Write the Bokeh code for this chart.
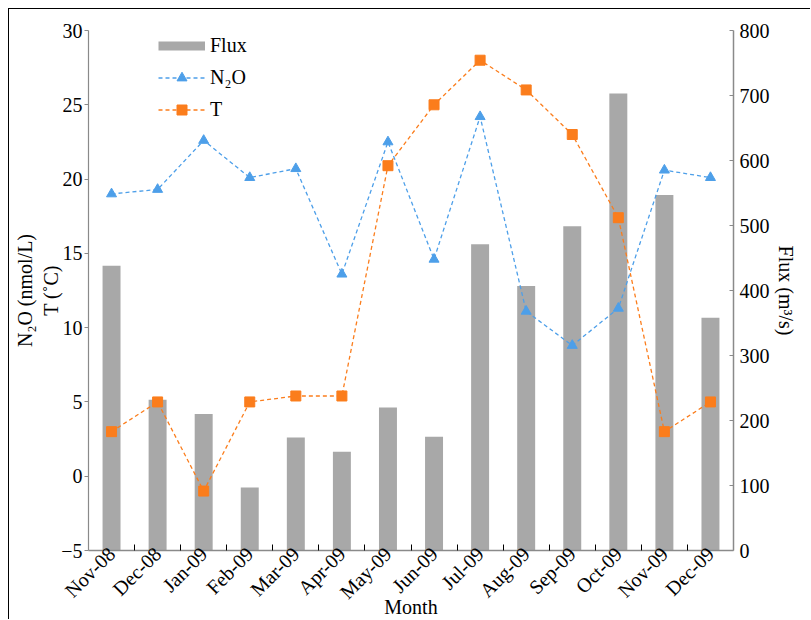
import numpy as np
from math import pi
from bokeh.plotting import figure
from bokeh.models import (Range1d, LinearAxis, FixedTicker, Legend, LegendItem,
                          ColumnDataSource, Title, InlineStyleSheet)
from bokeh.embed import file_html
from bokeh.resources import INLINE

months = ["Nov-08", "Dec-08", "Jan-09", "Feb-09", "Mar-09", "Apr-09", "May-09",
          "Jun-09", "Jul-09", "Aug-09", "Sep-09", "Oct-09", "Nov-09", "Dec-09"]
flux = [438, 232, 210, 97, 174, 152, 220, 175, 471, 407, 499, 703, 547, 358]
n2o = [19.0, 19.3, 22.6, 20.1, 20.7, 13.6, 22.5, 14.6, 24.2, 11.1, 8.8, 11.3, 20.6, 20.1]
temp = [3.0, 5.0, -1.0, 5.0, 5.4, 5.4, 20.9, 25.0, 28.0, 26.0, 23.0, 17.4, 3.0, 5.0]
left_ticks = [-5, 0, 5, 10, 15, 20, 25, 30]
right_ticks = [0, 100, 200, 300, 400, 500, 600, 700, 800]

FONT = "Liberation Serif"
BLUE = "#4d9fe9"
ORANGE = "#fb7d1c"
GRAY = "#a8a8a8"
AXIS = "#8a8a8a"

idx = list(range(len(months)))
src = ColumnDataSource(dict(x=idx, flux=flux, n2o=n2o, temp=temp))

p = figure(width=802, height=611, x_range=Range1d(-0.5, len(months) - 0.5),
           y_range=Range1d(-5, 30), output_backend="svg", toolbar_location=None,
           min_border_left=79, min_border_right=78, min_border_top=21, min_border_bottom=69)
p.extra_y_ranges = {"flux": Range1d(0, 800)}
p.outline_line_color = None
p.grid.visible = False
p.background_fill_color = "white"
p.border_fill_color = "white"
p.stylesheets = [InlineStyleSheet(css=":host { margin: 8px 0 0 8px; border-top: 1px solid #000; border-left: 1px solid #000; }")]

bars = p.vbar(x="x", top="flux", bottom=0, width=0.39, source=src, y_range_name="flux",
              fill_color=GRAY, line_color=None)
l1 = p.line("x", "n2o", source=src, line_color=BLUE, line_width=1.3, line_dash="4 3")
s1 = p.scatter("x", "n2o", source=src, marker="triangle", size=10, fill_color=BLUE, line_color=BLUE)
l2 = p.line("x", "temp", source=src, line_color=ORANGE, line_width=1.3, line_dash="4 3")
s2 = p.scatter("x", "temp", source=src, marker="square", size=10, fill_color=ORANGE, line_color=ORANGE)

# legend swatch for flux (thick gray line, same colour as the bars)
flux_key = p.line(x=[np.nan], y=[np.nan], line_color=GRAY, line_width=9, y_range_name="flux")

# x axis
xa = p.xaxis[0]
xa.ticker = FixedTicker(ticks=idx, minor_ticks=[i + 0.5 for i in idx[:-1]])
xa.major_label_overrides = {i: m for i, m in enumerate(months)}
xa.major_label_orientation = pi / 4
xa.major_tick_in = 0
xa.major_tick_out = 0
xa.minor_tick_in = 6
xa.minor_tick_out = 0
xa.minor_tick_line_color = "#000000"
xa.axis_line_color = AXIS
xa.axis_line_width = 1.5
xa.major_label_text_font = FONT
xa.major_label_text_font_size = "20px"
xa.major_label_text_color = "#000000"
xa.major_label_standoff = 0
xa.axis_label = "Month"
xa.axis_label_text_font = FONT
xa.axis_label_text_font_size = "20px"
xa.axis_label_text_font_style = "normal"
xa.axis_label_text_color = "#000000"
xa.axis_label_standoff = -18

# left axis
ya = p.yaxis[0]
ya.ticker = FixedTicker(ticks=left_ticks)
ya.major_label_overrides = {-5: "\u22125"}
ya.major_tick_in = 0
ya.major_tick_out = 4
ya.minor_tick_line_color = None
ya.axis_line_color = AXIS
ya.axis_line_width = 1.2
ya.major_tick_line_color = AXIS
ya.major_label_text_font = FONT
ya.major_label_text_font_size = "20px"
ya.major_label_text_color = "#000000"
ya.major_label_standoff = 2
ya.axis_label = "N\u2082O (nmol/L)\nT (\u02daC)"
ya.axis_label_text_font = FONT
ya.axis_label_text_font_size = "20px"
ya.axis_label_text_font_style = "normal"
ya.axis_label_text_color = "#000000"
ya.axis_label_standoff = -4

# right axis
ra = LinearAxis(y_range_name="flux", ticker=FixedTicker(ticks=right_ticks))
ra.major_tick_in = 4
ra.major_tick_out = 0
ra.minor_tick_line_color = None
ra.axis_line_color = AXIS
ra.axis_line_width = 1.5
ra.major_tick_line_color = AXIS
ra.major_label_text_font = FONT
ra.major_label_text_font_size = "20px"
ra.major_label_text_color = "#000000"
ra.major_label_standoff = 6
p.add_layout(ra, "right")

# right-hand axis title, reading top to bottom as in the original
flux_title = Title(text="Flux (m\u00b3/s)", align="center", text_font=FONT,
                   text_font_size="20px", text_font_style="normal", text_color="#000000",
                   standoff=4)
p.add_layout(flux_title, "right")

legend = Legend(items=[
    LegendItem(label="Flux", renderers=[flux_key]),
    LegendItem(label="N\u2082O", renderers=[l1, s1]),
    LegendItem(label="T", renderers=[l2, s2]),
], location=(70, 428))
legend.border_line_color = None
legend.background_fill_alpha = 0
legend.padding = 0
legend.margin = 0
legend.spacing = 7
legend.glyph_width = 47
legend.glyph_height = 25
legend.label_height = 25
legend.label_standoff = 5
legend.label_text_font = FONT
legend.label_text_font_size = "20px"
legend.label_text_color = "#000000"
p.add_layout(legend)

open("out.html", "w").write(file_html(p, INLINE))
